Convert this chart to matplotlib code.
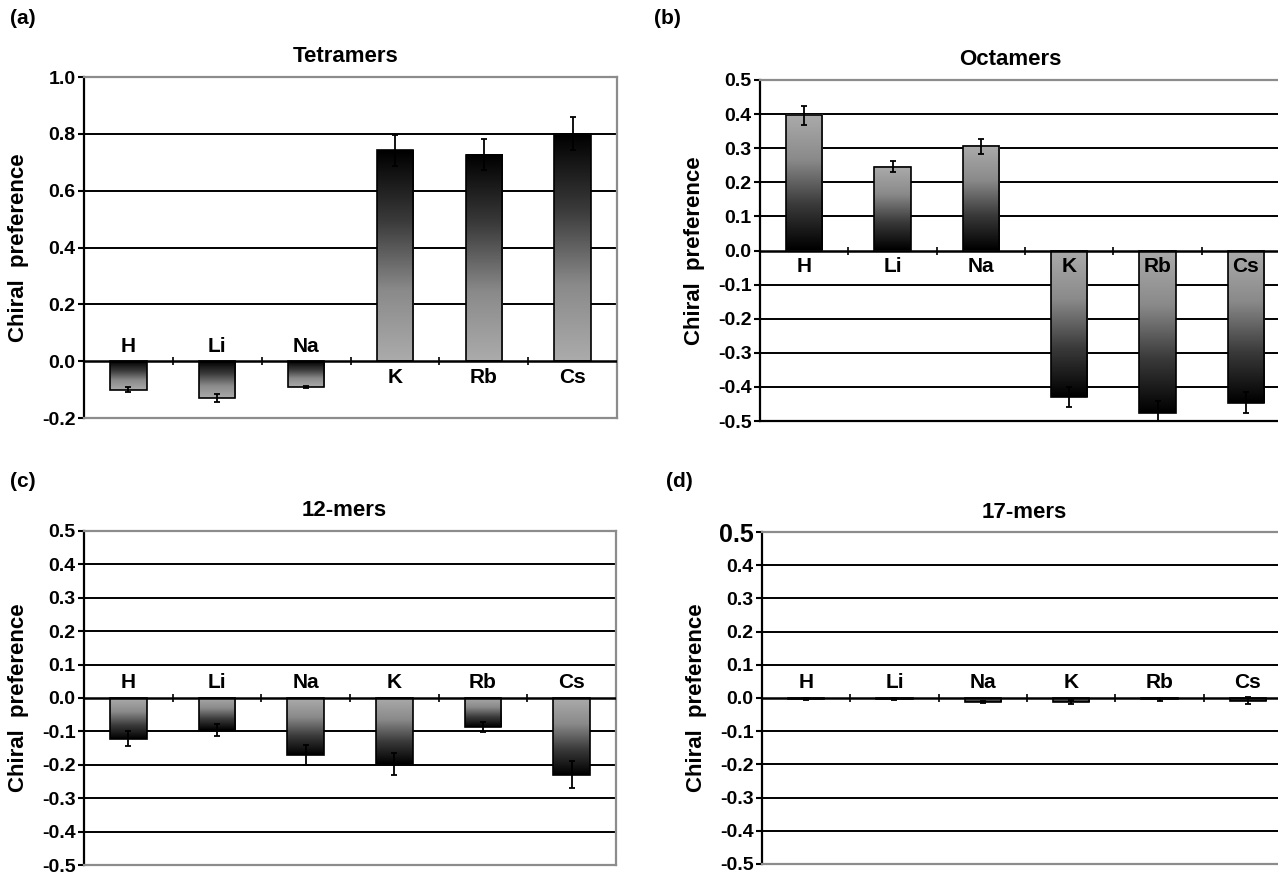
import numpy as np
import matplotlib
matplotlib.use("Agg")
import matplotlib.pyplot as plt
from matplotlib.colors import LinearSegmentedColormap

plt.rcParams['font.family'] = ['Liberation Sans', 'DejaVu Sans']
plt.rcParams['font.weight'] = 'bold'

cats = ['H', 'Li', 'Na', 'K', 'Rb', 'Cs']

tetramers = [-0.10, -0.13, -0.09, 0.742, 0.727, 0.800]
tetramers_err = [0.008, 0.013, 0.004, 0.055, 0.055, 0.058]

octamers = [0.397, 0.246, 0.306, -0.430, -0.476, -0.447]
octamers_err = [0.028, 0.017, 0.022, 0.030, 0.034, 0.031]

mers12 = [-0.122, -0.096, -0.170, -0.198, -0.087, -0.230]
mers12_err = [0.022, 0.018, 0.030, 0.034, 0.016, 0.040]

mers17 = [-0.003, -0.003, -0.012, -0.012, -0.004, -0.008]
mers17_err = [0.002, 0.002, 0.004, 0.006, 0.004, 0.010]

grad = LinearSegmentedColormap.from_list('g', ['#000000', '#3a3a3a', '#8a8a8a', '#ababab'])


def panel(ax, vals, errs, title, ylim, step, dark_top, label_pos, title_x=0.5, bottom_black=False):
    x = np.arange(len(cats))
    bars = ax.bar(x, vals, 0.41, color='none', edgecolor='black', linewidth=1.2, zorder=4)
    g = np.linspace(0, 1, 200).reshape(-1, 1)
    for b in bars:
        x0, y0 = b.get_x(), b.get_y()
        w, h = b.get_width(), b.get_height()
        lo, hi = min(y0, y0 + h), max(y0, y0 + h)
        img = g if not dark_top else g[::-1]
        ax.imshow(img, extent=[x0, x0 + w, lo, hi], origin='lower', aspect='auto',
                  cmap=grad, vmin=0, vmax=1, zorder=3)
    ax.errorbar(x, vals, yerr=errs, fmt='none', ecolor='black', elinewidth=1.3,
                capsize=2.5, capthick=1.3, zorder=5)
    ax.set_xlim(-0.5, len(cats) - 0.5)
    ax.set_ylim(*ylim)

    ticks = np.round(np.arange(ylim[0], ylim[1] + step / 2, step), 2) + 0.0
    ax.set_yticks(ticks)
    ax.set_yticklabels(['%.1f' % (t if abs(t) > 1e-9 else 0.0) for t in ticks])
    ax.set_xticks([])
    for t in ticks:
        if abs(t) < 1e-9:
            continue
        if abs(t - ylim[0]) < 1e-6 or abs(t - ylim[1]) < 1e-6:
            continue
        ax.axhline(t, color='black', linewidth=1.4, zorder=1)
    ax.axhline(0, color='black', linewidth=1.8, zorder=6)
    ax.plot(x[:-1] + 0.5, np.zeros(len(cats) - 1), ls='none', marker='|', ms=6,
            mew=1.2, color='black', zorder=6)

    for s in ['top', 'right', 'bottom']:
        ax.spines[s].set_color('#8c8c8c')
        ax.spines[s].set_linewidth(1.6)
    if bottom_black:
        ax.spines['bottom'].set_color('black')
    ax.spines['left'].set_color('black')
    ax.spines['left'].set_linewidth(1.6)
    ax.tick_params(axis='y', length=4, width=1.5, labelsize=14, pad=2)

    for i, c in enumerate(cats):
        if label_pos[i] == 'above':
            ax.annotate(c, (x[i], 0), xytext=(0, 4), textcoords='offset points',
                        ha='center', va='bottom', fontsize=15, fontweight='bold', zorder=7)
        else:
            ax.annotate(c, (x[i], 0), xytext=(0, -5), textcoords='offset points',
                        ha='center', va='top', fontsize=15, fontweight='bold', zorder=7)

    ax.set_ylabel('Chiral  preference', fontsize=16, fontweight='bold')
    ax.yaxis.set_label_coords(-0.104, 0.5)
    ax.text(title_x, 1.06, title, transform=ax.transAxes, ha='center', va='center',
            fontsize=16, fontweight='bold')


fig = plt.figure(figsize=(12.78, 8.75), dpi=100)
W, H = 1278.0, 875.0


def add_ax(l, r, t, b):
    return fig.add_axes([l / W, 1 - b / H, (r - l) / W, (b - t) / H])


ax_a = add_ax(84, 617, 77, 418)
ax_b = add_ax(760, 1290, 80, 421)
ax_c = add_ax(84, 616, 531, 865)
ax_d = add_ax(762, 1292, 532, 864)

panel(ax_a, tetramers, tetramers_err, 'Tetramers', (-0.2, 1.0), 0.2, True,
      ['above'] * 3 + ['below'] * 3, title_x=0.49)
panel(ax_b, octamers, octamers_err, 'Octamers', (-0.5, 0.5), 0.1, False,
      ['below'] * 6, title_x=0.472, bottom_black=True)
panel(ax_c, mers12, mers12_err, '12-mers', (-0.5, 0.5), 0.1, False,
      ['above'] * 6, title_x=0.49)
panel(ax_d, mers17, mers17_err, '17-mers', (-0.5, 0.5), 0.1, False,
      ['above'] * 6, title_x=0.495)

# the top label of panel (d) is printed larger in the original
ax_d.get_yticklabels()[-1].set_fontsize(18)

for txt, px, py in [('(a)', 10, 18), ('(b)', 654, 18), ('(c)', 10, 482), ('(d)', 666, 482)]:
    fig.text(px / W, 1 - py / H, txt, fontsize=15, fontweight='bold', va='center', ha='left')

fig.savefig('out.png', dpi=100)
